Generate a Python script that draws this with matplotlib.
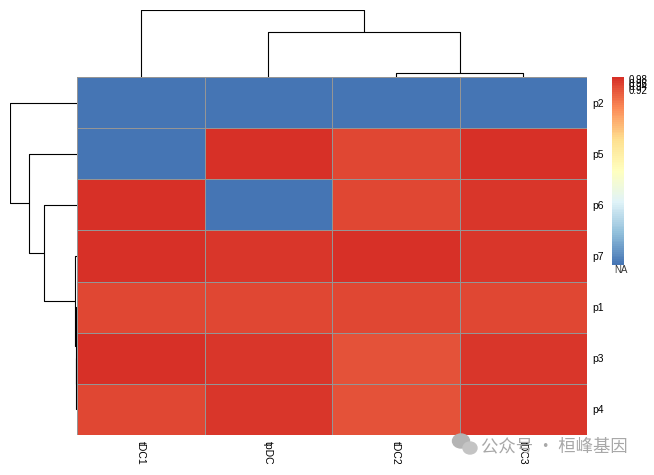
import matplotlib
matplotlib.use("Agg")
import matplotlib.pyplot as plt
import numpy as np
from matplotlib.colors import LinearSegmentedColormap, Normalize
from matplotlib.patches import Ellipse

# ── data ────────────────────────────────────────────
rows = ["p2", "p5", "p6", "p7", "p1", "p3", "p4"]
cols = ["tDC1", "tpDC", "tDC2", "tDC3"]
values = np.array([
    [0.000, 0.000, 0.000, 0.000],
    [0.000, 0.990, 0.950, 0.990],
    [0.990, 0.000, 0.950, 0.972],
    [0.990, 0.972, 0.990, 0.972],
    [0.941, 0.950, 0.950, 0.941],
    [0.990, 0.972, 0.928, 0.972],
    [0.950, 0.972, 0.928, 0.972],
])
# merges as (node_a, node_b, height); leaves are 0..n-1, new nodes follow
row_merges = [(5, 6, 0.6), (4, 7, 1.3), (3, 8, 2.5), (2, 9, 33), (1, 10, 48), (0, 11, 67)]
col_merges = [(2, 3, 4), (1, 4, 45), (0, 5, 67)]
legend_ticks = [0.92, 0.94, 0.96, 0.98]

palette = ["#4575B4", "#91BFDB", "#E0F3F8", "#FFFFBF", "#FEE090", "#FC8D59", "#D73027"]
cmap = LinearSegmentedColormap.from_list("rdylbu", palette, N=100)
norm = Normalize(vmin=0, vmax=0.99)

W, H = 654, 475
fig = plt.figure(figsize=(W / 100, H / 100), dpi=100)

def box(l, t, r, b):
    return [l / W, 1 - b / H, (r - l) / W, (b - t) / H]

def dendro(ax, n, merges, side):
    pos = {i: i + 0.5 for i in range(n)}
    hgt = {i: 0.0 for i in range(n)}
    for k, (a, b, h) in enumerate(merges):
        pa, pb = pos[a], pos[b]
        xs = [pa, pa, pb, pb]
        ys = [hgt[a], h, h, hgt[b]]
        if side == "left":
            xs, ys = ys, xs
        ax.plot(xs, ys, color="black", lw=0.8, solid_capstyle="butt")
        pos[n + k] = (pa + pb) / 2
        hgt[n + k] = h
    ax.axis("off")

# ── heatmap ─────────────────────────────────────────
ax = fig.add_axes(box(77, 77, 587, 435))
mesh = ax.pcolormesh(np.arange(len(cols) + 1), np.arange(len(rows) + 1), values,
                     cmap=cmap, norm=norm, edgecolors="#959595", linewidth=0.5)
ax.set_xlim(0, len(cols))
ax.set_ylim(len(rows), 0)
for s in ax.spines.values():
    s.set_visible(False)
ax.yaxis.tick_right()
ax.set_yticks(np.arange(len(rows)) + 0.5)
ax.set_yticklabels(rows, fontsize=7.5, family="Liberation Sans")
ax.set_xticks(np.arange(len(cols)) + 0.5)
ax.set_xticklabels(cols, fontsize=7.5, family="Liberation Sans", rotation=-90, va="top")
ax.tick_params(length=0, pad=4)

# ── dendrograms ─────────────────────────────────────
axr = fig.add_axes(box(10, 77, 77, 435))
dendro(axr, len(rows), row_merges, "left")
axr.set_xlim(67, 0)
axr.set_ylim(len(rows), 0)

axc = fig.add_axes(box(77, 10, 587, 77))
dendro(axc, len(cols), col_merges, "top")
axc.set_xlim(0, len(cols))
axc.set_ylim(0, 67)

# ── legend ──────────────────────────────────────────
axl = fig.add_axes(box(612, 77, 624, 265))
cb = fig.colorbar(mesh, cax=axl, ticks=legend_ticks)
cb.outline.set_visible(False)
cb.ax.tick_params(length=0, labelsize=7, pad=3)
cb.ax.set_yticklabels([f"{t:.2f}" for t in legend_ticks], family="Liberation Sans")

# ── overlay: NA label and watermark ─────────────────
ov = fig.add_axes([0, 0, 1, 1])
ov.set_xlim(0, W)
ov.set_ylim(H, 0)
ov.axis("off")
ov.text(614, 270, "NA", fontsize=7, family="Liberation Sans", color="#333333", va="center")
ov.add_patch(Ellipse((461, 441), 17, 14, color="#b4b4b4"))
ov.add_patch(Ellipse((470, 448), 14, 12, color="#c4c4c4"))
ov.text(481, 446, "公众号 · 桓峰基因", fontsize=12.5, color="#a8a8a8",
        family=["Noto Sans CJK SC", "DejaVu Sans"], va="center")

fig.savefig("out.png", dpi=100)
